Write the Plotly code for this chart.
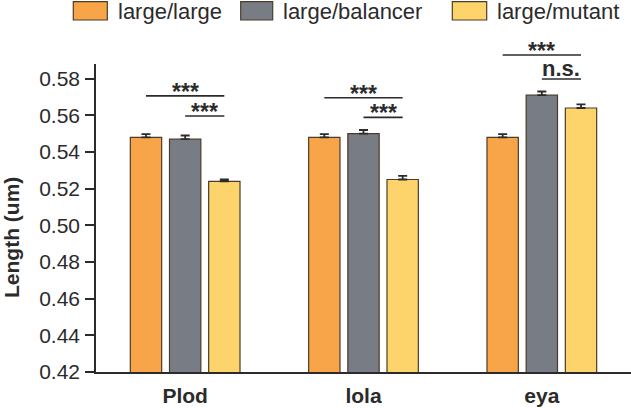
import plotly.graph_objects as go

genes = ["Plod", "lola", "eya"]
series_names = ["large/large", "large/balancer", "large/mutant"]
series_colors = ["#F7A548", "#787D85", "#FDD46C"]
values = [
    [0.548, 0.548, 0.548],   # large/large
    [0.547, 0.550, 0.571],   # large/balancer
    [0.524, 0.525, 0.564],   # large/mutant
]
errors = [
    [0.0017, 0.0017, 0.0017],
    [0.0020, 0.0020, 0.0020],
    [0.0010, 0.0020, 0.0020],
]
y_ticks = [0.42, 0.44, 0.46, 0.48, 0.50, 0.52, 0.54, 0.56, 0.58]
y_range = [0.42, 0.588]
# (gene index, from series, to series, bar height of bracket, label)
comparisons = [
    (0, 0, 2, 0.5706, "***"),
    (0, 1, 2, 0.5596, "***"),
    (1, 0, 2, 0.5696, "***"),
    (1, 1, 2, 0.5589, "***"),
    (2, 0, 2, 0.5929, "***"),
    (2, 1, 2, 0.5798, "n.s."),
]

FONT = "Liberation Sans, Arial, sans-serif"
INK = "#2b2b2b"
OUTLINE = "#4a3c28"
BARGAP = 0.341
GROUPGAP = 0.2
W, H = 631, 408
ML, MR, MT, MB = 96, 0, 64, 36
PW, PH = W - ML - MR, H - MT - MB

fig = go.Figure()
for name, col, vals, errs in zip(series_names, series_colors, values, errors):
    fig.add_trace(go.Bar(
        x=genes, y=vals, name=name, showlegend=False,
        marker=dict(color=col, line=dict(color=OUTLINE, width=1.2)),
        error_y=dict(type="data", array=errs, arrayminus=[0] * len(errs),
                     symmetric=False, color=INK, thickness=1.8, width=4.5),
    ))

x_range = [-0.5, len(genes) - 0.5]
slot = (1 - BARGAP) / len(series_names)


def xp(v):
    return (v - x_range[0]) / (x_range[1] - x_range[0])


def yp(v):
    return (v - y_range[0]) / (y_range[1] - y_range[0])


def px_x(p):
    return (p - ML) / PW


def px_y(p):
    return (H - MB - p) / PH


shapes = []
annotations = []
for g, a, b, h, lab in comparisons:
    xa = g + (a - 1) * slot
    xb = g + (b - 1) * slot
    shapes.append(dict(type="line", xref="paper", yref="paper",
                       x0=xp(xa), x1=xp(xb), y0=yp(h), y1=yp(h),
                       line=dict(color=INK, width=1.6)))
    if lab == "n.s.":
        annotations.append(dict(x=xp((xa + xb) / 2), y=yp(h), xref="paper", yref="paper",
                                text="<b>n.s.</b>", showarrow=False,
                                xanchor="center", yanchor="middle",
                                yshift=11, font=dict(family=FONT, size=22, color=INK)))
    else:
        annotations.append(dict(x=xp((xa + xb) / 2), y=yp(h), xref="paper", yref="paper",
                                text="<b>%s</b>" % lab, showarrow=False,
                                xanchor="center", yanchor="middle",
                                yshift=4, font=dict(family=FONT, size=23, color=INK)))

# manual legend (wide swatches)
legend_boxes = [(73.3, 107.3), (240.7, 272.7), (452.3, 486.7)]
for (x0, x1), name, col in zip(legend_boxes, series_names, series_colors):
    shapes.append(dict(type="rect", xref="paper", yref="paper",
                       x0=px_x(x0), x1=px_x(x1), y0=px_y(20), y1=px_y(1.7),
                       fillcolor=col, line=dict(color=OUTLINE, width=1.2)))
    annotations.append(dict(x=px_x(x1 + 8.5), y=px_y(11), xref="paper", yref="paper",
                            text=name, showarrow=False, xanchor="left", yanchor="middle",
                            font=dict(family=FONT, size=22, color=INK)))

# y axis title
annotations.append(dict(x=px_x(11), y=px_y(230), xref="paper", yref="paper",
                        text="<b>Length (um)</b>", textangle=-90, showarrow=False,
                        xanchor="center", yanchor="middle", yshift=-8,
                        font=dict(family=FONT, size=21, color=INK)))

fig.update_layout(
    width=W, height=H,
    margin=dict(l=ML, r=MR, t=MT, b=MB, pad=0),
    paper_bgcolor="white", plot_bgcolor="white",
    barmode="group", bargap=BARGAP, bargroupgap=GROUPGAP,
    shapes=shapes, annotations=annotations,
    font=dict(family=FONT, color=INK),
    xaxis=dict(range=x_range, showline=True, linecolor=INK, linewidth=1.6,
               ticks="", showgrid=False, zeroline=False, ticklabelstandoff=4,
               tickfont=dict(family=FONT, size=21, color=INK),
               tickvals=genes, ticktext=["<b>%s</b>" % g for g in genes]),
    yaxis=dict(range=y_range, showline=True, linecolor=INK, linewidth=1.6,
               ticks="outside", ticklen=9, tickwidth=1.6, tickcolor=INK,
               tickvals=y_ticks, ticktext=["%.2f" % t for t in y_ticks],
               showgrid=False, zeroline=False, ticklabelstandoff=1,
               tickfont=dict(family=FONT, size=21, color=INK)),
)

fig.write_html("out.html", config={"displayModeBar": False},
               post_script="document.body.style.margin='0';document.body.style.padding='0';")
